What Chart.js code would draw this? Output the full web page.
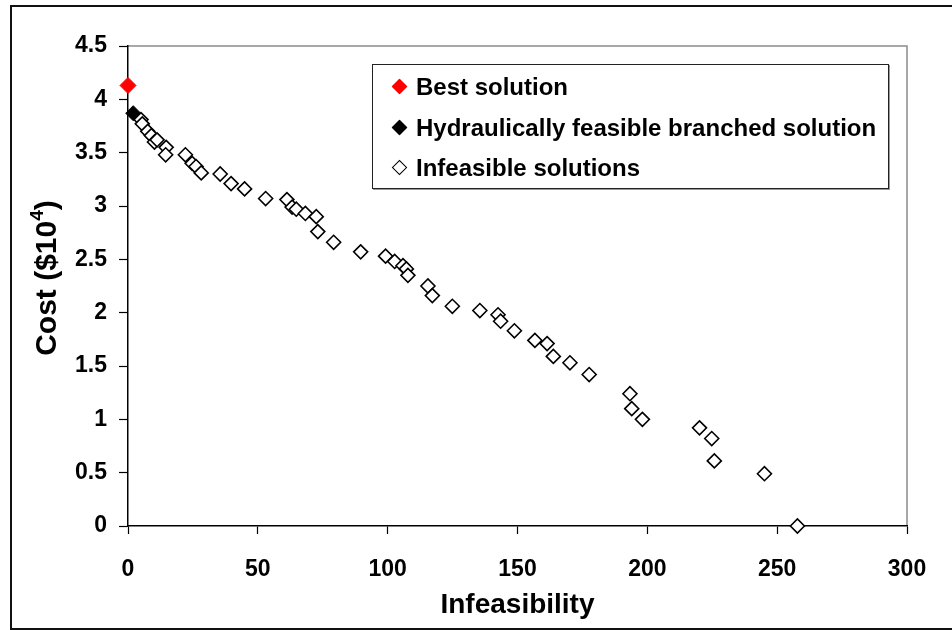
<!DOCTYPE html>
<html>
<head>
<meta charset="utf-8">
<script src="https://cdn.jsdelivr.net/npm/chart.js@4.4.1/dist/chart.umd.min.js"></script>
<style>
  html, body { margin: 0; padding: 0; background: #fff; overflow: hidden; }
  .wrap { position: relative; width: 952px; height: 630px; }
  .frame {
    position: absolute; left: 10px; top: 5px; width: 960px; height: 621px;
    border: 2px solid #111; pointer-events: none;
  }
  .legend {
    position: absolute; left: 372px; top: 64px; width: 515px; height: 123px;
    border: 1px solid #222; box-shadow: 1px 1px 0 #999; background: #fff;
    font-family: "Liberation Sans", Arial, sans-serif; font-weight: bold; font-size: 24px;
  }
  .legend .row { position: absolute; left: 0; height: 30px; line-height: 30px; white-space: nowrap; }
  .legend .mark {
    position: absolute; left: 21px; top: 9px; width: 11px; height: 11px;
    transform: rotate(45deg); box-sizing: border-box;
  }
  .legend .label { position: absolute; left: 43px; top: 0; color: #000; }
  .ytitle {
    position: absolute; left: 46px; top: 278px; transform: translate(-50%, -50%) rotate(-90deg);
    font-family: "Liberation Sans", Arial, sans-serif; font-weight: bold; font-size: 30px;
    white-space: nowrap; color: #000; line-height: 1;
  }
  .ytitle sup { font-size: 19px; vertical-align: 13px; line-height: 0; }
</style>
</head>
<body>
<div class="wrap">
  <canvas id="costChart" width="952" height="630"></canvas>
  <div class="frame"></div>
  <div class="ytitle">Cost ($10<sup>4</sup>)</div>
  <div class="legend" id="legend"></div>
</div>
<script>
// Solutions: infeasibility (x) vs. cost in $10^4 (y)
const bestSolution = [[0, 4.13]];
const branchedSolution = [[2, 3.87]];
const infeasibleX = [
  5.0, 5.5, 7.6, 9.0, 10.2, 11.2, 14.7, 14.5, 22.1, 24.7,
  26.2, 28.2, 35.5, 39.7, 44.9, 53.0, 61.2, 63.2, 64.8, 68.3,
  72.5, 73.1, 79.2, 89.6, 99.2, 102.7, 105.9, 107.2, 107.8, 115.5,
  117.2, 124.9, 135.5, 142.5, 143.5, 148.8, 156.7, 161.4, 163.8, 170.2,
  177.6, 193.3, 194.0, 198.1, 220.1, 224.8, 225.8, 245.1, 257.8
];
const infeasibleY = [
  3.81, 3.77, 3.70, 3.66, 3.60, 3.62, 3.55, 3.48, 3.48, 3.40,
  3.37, 3.31, 3.30, 3.21, 3.16, 3.07, 3.06, 2.99, 2.97, 2.93,
  2.90, 2.76, 2.66, 2.57, 2.53, 2.48, 2.44, 2.41, 2.35, 2.25,
  2.16, 2.06, 2.02, 1.98, 1.92, 1.83, 1.74, 1.71, 1.59, 1.53,
  1.42, 1.24, 1.10, 1.00, 0.92, 0.82, 0.61, 0.49, 0.00
];
const seriesNames = ['Best solution', 'Hydraulically feasible branched solution', 'Infeasible solutions'];
const xTitle = 'Infeasibility';

const toPoints = pairs => pairs.map(([x, y]) => ({ x, y }));
const infeasiblePoints = infeasibleX.map((x, i) => ({ x, y: infeasibleY[i] }));

const tickFont = { family: '"Liberation Sans", Arial, sans-serif', size: 23, weight: 'bold' };
const titleFont = { family: '"Liberation Sans", Arial, sans-serif', size: 28, weight: 'bold' };

// thin grey border on the top and right of the plot area
const plotFrame = {
  id: 'plotFrame',
  beforeDraw(chart) {
    const { ctx, chartArea: a } = chart;
    ctx.save();
    ctx.strokeStyle = '#8c8c8c';
    ctx.lineWidth = 1.5;
    ctx.beginPath();
    ctx.moveTo(a.left, a.top);
    ctx.lineTo(a.right, a.top);
    ctx.lineTo(a.right, a.bottom);
    ctx.stroke();
    ctx.restore();
  }
};

new Chart(document.getElementById('costChart'), {
  type: 'scatter',
  data: {
    datasets: [
      {
        label: seriesNames[2],
        data: infeasiblePoints,
        pointStyle: 'rectRot',
        pointRadius: 7,
        pointBackgroundColor: '#ffffff',
        pointBorderColor: '#000000',
        pointBorderWidth: 1.6,
        order: 3
      },
      {
        label: seriesNames[1],
        data: toPoints(branchedSolution),
        pointStyle: 'rectRot',
        pointRadius: 7.5,
        pointBackgroundColor: '#000000',
        pointBorderColor: '#000000',
        pointBorderWidth: 1,
        order: 2
      },
      {
        label: seriesNames[0],
        data: toPoints(bestSolution),
        pointStyle: 'rectRot',
        pointRadius: 8,
        pointBackgroundColor: '#ff0000',
        pointBorderColor: '#ff0000',
        pointBorderWidth: 1,
        order: 1
      }
    ]
  },
  options: {
    responsive: false,
    animation: false,
    clip: false,
    layout: { padding: { left: 0, right: 45, top: 46, bottom: 0 } },
    plugins: {
      legend: { display: false },
      tooltip: { enabled: false }
    },
    scales: {
      x: {
        type: 'linear',
        min: 0,
        max: 300,
        afterFit: scale => { scale.height = 104; },
        ticks: { stepSize: 50, color: '#000', font: tickFont, padding: 22, maxRotation: 0 },
        grid: { drawOnChartArea: false, tickLength: 8, color: '#000', tickWidth: 1.2 },
        border: { color: '#000', width: 1.5 },
        title: { display: true, text: xTitle, color: '#000', font: titleFont, padding: { top: 0, bottom: 8 } }
      },
      y: {
        type: 'linear',
        min: 0,
        max: 4.5,
        afterFit: scale => { scale.width = 128; },
        ticks: {
          stepSize: 0.5, color: '#000', font: tickFont, padding: 12,
          callback: value => String(value)
        },
        grid: { drawOnChartArea: false, tickLength: 9, color: '#000', tickWidth: 1.2 },
        border: { color: '#000', width: 1.5 }
      }
    }
  },
  plugins: [plotFrame]
});

// legend box inside the plot area
const legendStyles = [
  { fill: '#ff0000', stroke: '#ff0000' },
  { fill: '#000000', stroke: '#000000' },
  { fill: '#ffffff', stroke: '#000000' }
];
const legendEl = document.getElementById('legend');
seriesNames.forEach((name, i) => {
  const row = document.createElement('div');
  row.className = 'row';
  row.style.top = (7 + i * 40.5) + 'px';
  row.innerHTML = `<span class="mark" style="background:${legendStyles[i].fill};border:1.5px solid ${legendStyles[i].stroke}"></span><span class="label">${name}</span>`;
  legendEl.appendChild(row);
});
</script>
</body>
</html>
